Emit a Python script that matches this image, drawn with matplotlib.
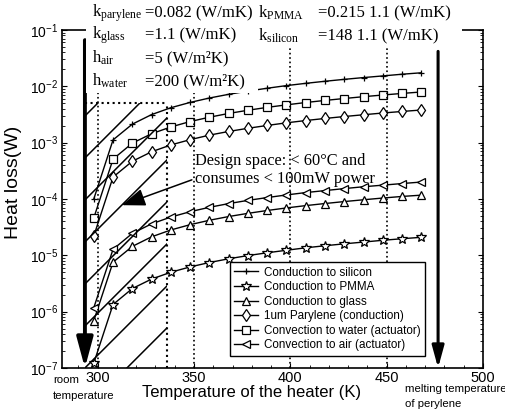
import numpy as np
import matplotlib.pyplot as plt
from matplotlib.patches import Rectangle
from matplotlib.ticker import MultipleLocator

plt.rcParams['font.family'] = ['Liberation Sans', 'DejaVu Sans']
plt.rcParams['mathtext.fontset'] = 'stix'

# heater temperature (K)
temp = [298, 308, 318, 328, 338, 348, 358, 368, 378, 388,
        398, 408, 418, 428, 438, 448, 458, 468]

# heat loss (W)
q_silicon = [1.0e-4, 1.12e-3, 2.13e-3, 3.15e-3, 4.17e-3, 5.18e-3, 6.2e-3, 7.21e-3, 8.23e-3,
             9.25e-3, 1.03e-2, 1.13e-2, 1.23e-2, 1.33e-2, 1.43e-2, 1.53e-2, 1.64e-2, 1.74e-2]
q_pmma = [1.22e-7, 1.34e-6, 2.57e-6, 3.79e-6, 5.01e-6, 6.23e-6, 7.45e-6, 8.68e-6, 9.9e-6,
          1.11e-5, 1.23e-5, 1.36e-5, 1.48e-5, 1.6e-5, 1.72e-5, 1.85e-5, 1.97e-5, 2.09e-5]
q_glass = [6.9e-7, 7.56e-6, 1.44e-5, 2.13e-5, 2.82e-5, 3.5e-5, 4.19e-5, 4.88e-5, 5.56e-5,
           6.25e-5, 6.94e-5, 7.63e-5, 8.31e-5, 9.0e-5, 9.69e-5, 1.04e-4, 1.11e-4, 1.17e-4]
q_parylene = [2.2e-5, 2.45e-4, 4.67e-4, 6.89e-4, 9.11e-4, 1.13e-3, 1.36e-3, 1.58e-3, 1.8e-3,
              2.02e-3, 2.25e-3, 2.47e-3, 2.69e-3, 2.91e-3, 3.13e-3, 3.36e-3, 3.58e-3, 3.8e-3]
q_water = [4.6e-5, 5.1e-4, 9.8e-4, 1.44e-3, 1.9e-3, 2.37e-3, 2.83e-3, 3.3e-3, 3.76e-3,
           4.23e-3, 4.69e-3, 5.16e-3, 5.62e-3, 6.08e-3, 6.55e-3, 7.01e-3, 7.48e-3, 7.94e-3]
q_air = [1.17e-6, 1.28e-5, 2.45e-5, 3.62e-5, 4.78e-5, 5.95e-5, 7.12e-5, 8.28e-5, 9.45e-5,
         1.06e-4, 1.18e-4, 1.3e-4, 1.41e-4, 1.53e-4, 1.65e-4, 1.76e-4, 1.88e-4, 2.0e-4]

labels = ['Conduction to silicon', 'Conduction to PMMA', 'Conduction to glass',
          '1um Parylene (conduction)', 'Convection to water (actuator)',
          'Convection to air (actuator)']
markers = ['+', '*', '^', 'd', 's', '<']

t_room = 293.4      # room temperature arrow
t_melt = 476.7      # melting temperature arrow
t_design = 336      # 60 C limit
q_design = 5e-3     # power limit line

fig = plt.figure(figsize=(5.06, 4.16), dpi=100)
ax = fig.add_axes([0.1225, 0.1154, 0.832, 0.8125])

series = [q_silicon, q_pmma, q_glass, q_parylene, q_water, q_air]
sizes = [4, 7, 6, 6, 5.5, 6]
for q, m, lab, ms in zip(series, markers, labels, sizes):
    ax.plot(temp, q, '-', color='k', lw=1, marker=m, ms=ms, mfc='white',
            mec='k', mew=0.9, label=lab)

ax.set_yscale('log')
ax.set_xlim(281.5, 500)
ax.set_ylim(1e-7, 1e-1)
ax.set_xticks([300, 350, 400, 450, 500])
ax.xaxis.set_minor_locator(MultipleLocator(10))
ax.tick_params(which='both', direction='in', right=True, top=False, labelsize=10.5)
ax.tick_params(axis='x', pad=2)
ax.tick_params(axis='y', pad=3, labelsize=10)
for s in ax.spines.values():
    s.set_linewidth(1.2)

# dotted grid lines and design-space box
for t in [300, 350, 400, 450]:
    ax.axvline(t, color='k', ls=':', lw=1.2)
ax.plot([t_design, t_design], [1e-7, q_design], ':', color='k', lw=1.5)
ax.plot([t_room, t_design], [q_design, q_design], ':', color='k', lw=1.5)

# hatching of design space
clip = Rectangle((t_room, 1e-7), t_design - t_room, q_design - 1e-7,
                 fc='none', ec='none', transform=ax.transData)
ax.add_patch(clip)
x0 = (t_room - 281.5) / (500 - 281.5)
slope = 421 / 338
xs = np.array([0, 1])
for k in range(-12, 4):
    ln, = ax.plot(xs, slope * (xs - x0 - k * 42 / 421), color='k', lw=1.1,
                  transform=ax.transAxes)
    ln.set_clip_path(clip)

# arrows
ax.annotate('', xy=(t_room, 1e-7), xytext=(t_room, 10**-1.18),
            arrowprops=dict(arrowstyle='-|>,head_length=1.3,head_width=0.35',
                            color='k', lw=2.8, mutation_scale=14, shrinkA=0, shrinkB=0))
ax.annotate('', xy=(t_melt, 1e-7), xytext=(t_melt, 10**-1.38),
            arrowprops=dict(arrowstyle='-|>,head_length=1.1,head_width=0.3',
                            color='k', lw=2.2, mutation_scale=12, shrinkA=0, shrinkB=0))
ax.annotate('', xy=(312.6, 10**-4.11), xytext=(348.9, 10**-3.66),
            arrowprops=dict(arrowstyle='-|>,head_length=1.2,head_width=0.45',
                            color='k', lw=1.1, mutation_scale=12, shrinkA=0, shrinkB=0))
ax.text(350.4, 10**-3.49, 'Design space: < 60\u00b0C and\nconsumes < 100mW power',
        family='Liberation Serif', fontsize=11.8, va='center', ha='left', linespacing=1.15)

leg = ax.legend(loc='lower right', bbox_to_anchor=(0.876, 0.018), fontsize=8.4,
                frameon=True, fancybox=False, edgecolor='k', framealpha=1,
                handlelength=2.0, borderpad=0.4, labelspacing=0.22, handletextpad=0.5)
leg.get_frame().set_linewidth(1.0)

ax.set_xlabel('Temperature of the heater (K)', fontsize=12)
ax.xaxis.set_label_coords(0.451, -0.05)
ax.set_ylabel('Heat loss(W)', fontsize=14)
ax.yaxis.set_label_coords(-0.095, 0.55)

# white area behind parameter text
W, H = 506, 416
fig.add_artist(Rectangle((86 / W, 1 - 93 / H), 172 / W, 93 / H, transform=fig.transFigure,
                         fc='white', ec='none', zorder=3))
fig.add_artist(Rectangle((258 / W, 1 - 48 / H), 204 / W, 48 / H, transform=fig.transFigure,
                         fc='white', ec='none', zorder=3))

params_left = [('k', 'parylene', '=0.082 (W/mK)', 13),
               ('k', 'glass', '=1.1 (W/mK)', 35),
               ('h', 'air', '=5 (W/m\u00b2K)', 58),
               ('h', 'water', '=200 (W/m\u00b2K)', 81)]
params_right = [('k', 'PMMA', '=0.215 1.1 (W/mK)', 13),
                ('k', 'silicon', '=148 1.1 (W/mK)', 36)]
for cols, rows in [((92, 145), params_left), ((258, 318), params_right)]:
    for sym, sub, val, y in rows:
        fig.text(cols[0] / W, 1 - y / H, sym + '$_{\\mathregular{' + sub + '}}$',
                 family='Liberation Serif', fontsize=12, va='center', zorder=4)
        fig.text(cols[1] / W, 1 - y / H, val, family='Liberation Serif',
                 fontsize=12, va='center', zorder=4)

fig.text(53 / W, 1 - 380 / H, 'room', fontsize=8.2, va='center')
fig.text(53 / W, 1 - 396 / H, 'temperature', fontsize=8.2, va='center')
fig.text(405 / W, 1 - 389 / H, 'melting temperature', fontsize=8.2, va='center')
fig.text(405 / W, 1 - 404 / H, 'of perylene', fontsize=8.2, va='center')

fig.savefig('out.png', dpi=100)
